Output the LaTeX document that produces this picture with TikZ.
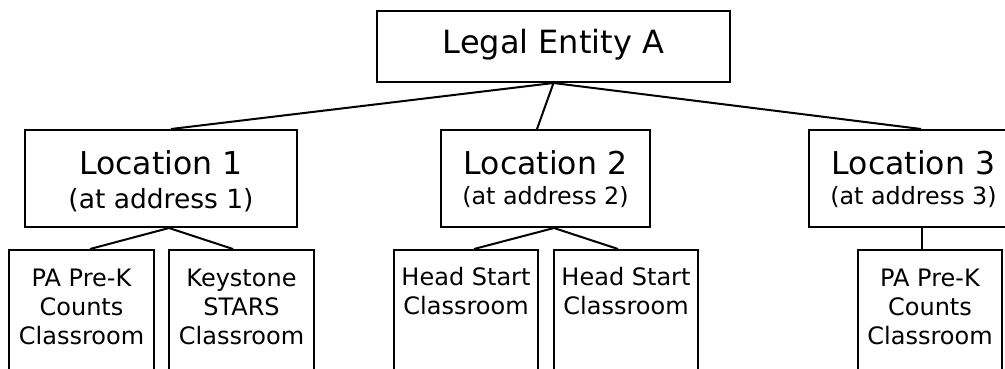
\documentclass[tikz,border=0pt]{standalone}
\usepackage{fontspec}
\setmainfont{DejaVu Sans}

\tikzset{
	unit/.style={draw, rectangle, line width=2pt, inner xsep=0pt, inner ysep=0pt, align=center},
	entity/.style={unit, anchor=north west, minimum width=353pt, text height=42pt, text depth=29pt, font=\fontsize{32}{36}\selectfont},
	site/.style={unit, anchor=north west, font=\fontsize{31.5}{30}\selectfont, text height=74pt, text depth=23pt},
	room/.style={unit, anchor=north west, minimum width=145pt, text depth=150pt, font=\fontsize{24}{29}\selectfont},
	link/.style={line width=2pt},
}
\newcommand{\siteaddr}[2]{{\fontsize{#1}{#1}\selectfont #2}}

\begin{document}
\begin{tikzpicture}[x=1pt, y=-1pt]
	\useasboundingbox (0,0) rectangle (1005,368);
	\clip (0,0) rectangle (1005,368);
	% Boxes:
	\node[entity] (legal) at (376,10) {Legal Entity A};
	\node[site, minimum width=272pt, font=\fontsize{31.5}{34}\selectfont, text height=78pt, text depth=19pt] (loc1) at (24,129) {Location 1\\\siteaddr{26.5}{(at address 1)}};
	\node[site, minimum width=209pt] (loc2) at (440,129) {Location 2\\\siteaddr{23.8}{(at address 2)}};
	\node[site, minimum width=209pt] (loc3) at (808,129) {Location 3\\\siteaddr{23.8}{(at address 3)}};
	\node[room, text height=94pt] (prek1) at (8,249) {PA Pre-K\\Counts\\Classroom};
	\node[room, text height=94pt] (stars) at (168,249) {Keystone\\STARS\\Classroom};
	\node[room, text height=64pt, minimum width=144pt] (head1) at (393,249) {Head Start\\Classroom};
	\node[room, text height=64pt, minimum width=144pt] (head2) at (553,249) {Head Start\\Classroom};
	\node[room, text height=94pt, minimum width=144pt] (prek3) at (857,249) {PA Pre-K\\Counts\\Classroom};
	% Wires:
	\draw[link] (legal.south) -- ([xshift=10pt]loc1.north);
	\draw[link] (legal.south) -- ([xshift=-8.5pt]loc2.north);
	\draw[link] (legal.south) -- ([xshift=7.5pt]loc3.north);
	\draw[link] ([xshift=8pt]loc1.south) -- ([xshift=8.5pt]prek1.north);
	\draw[link] ([xshift=8pt]loc1.south) -- ([xshift=-8.5pt]stars.north);
	\draw[link] ([xshift=8.5pt]loc2.south) -- ([xshift=8pt]head1.north);
	\draw[link] ([xshift=8.5pt]loc2.south) -- ([xshift=-8pt]head2.north);
	\draw[link] ([xshift=8.5pt]loc3.south) -- ([xshift=-8pt]prek3.north);
\end{tikzpicture}
\end{document}
